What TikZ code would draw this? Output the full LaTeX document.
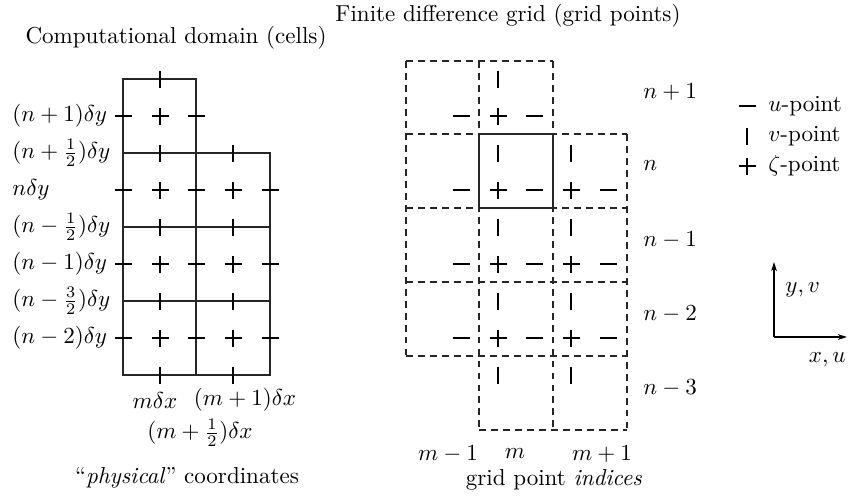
\documentclass[tikz,border=0pt]{standalone}
\usetikzlibrary{arrows.meta}
\tikzset{
  grid/.style={line width=0.45pt, black!85},
  thickbox/.style={line width=1.1pt, black!85},
  dgrid/.style={line width=0.45pt, black!85, dash pattern=on 3pt off 2.2pt},
  mk/.style={line width=0.95pt, black},
  lbl/.style={inner sep=0pt, font=\normalsize},
  upt/.pic={\draw[mk] (-8.5,0) -- (8.5,0);},
  vpt/.pic={\draw[mk] (0,-8.5) -- (0,8.5);},
  zpt/.pic={\draw[mk] (-8.5,0) -- (8.5,0) (0,-8.5) -- (0,8.5);},
}
\begin{document}
\begin{tikzpicture}[x=0.434pt, y=-0.434pt]
\useasboundingbox (0,0) rectangle (848,499);
% ---------- titles
\node[lbl] (t1) at (176,38) {Computational domain (cells)};
\node[lbl] (t2) at (508,16) {Finite difference grid (grid points)};
% ---------- left: cells
\draw[grid] (123,79) rectangle (196,375);
\draw[grid] (196,153) rectangle (270,375);
\draw[grid] (123,153) -- (270,153) (123,227) -- (270,227) (123,301) -- (270,301);
\draw[thickbox] (123,153) rectangle (196,227);
% markers (left)
\pic at (160,79) {vpt};
\foreach \y in {153,227,301,375} {\pic at (160,\y) {vpt}; \pic at (233,\y) {vpt};}
\pic at (123,116) {upt}; \pic at (196,116) {upt}; \pic at (160,116) {zpt};
\foreach \y in {190,264,338} {
  \pic at (123,\y) {upt}; \pic at (196,\y) {upt}; \pic at (270,\y) {upt};
  \pic at (160,\y) {zpt}; \pic at (233,\y) {zpt};}
% labels (left)
\node[lbl, anchor=west] (l1) at (12,116) {$(n+1)\delta y$};
\node[lbl, anchor=west] (l2) at (12,153) {$(n+\frac{1}{2})\delta y$};
\node[lbl, anchor=west] (l3) at (12,190) {$n\delta y$};
\node[lbl, anchor=west] (l4) at (12,227) {$(n-\frac{1}{2})\delta y$};
\node[lbl, anchor=west] (l5) at (12,264) {$(n-1)\delta y$};
\node[lbl, anchor=west] (l6) at (12,301) {$(n-\frac{3}{2})\delta y$};
\node[lbl, anchor=west] (l7) at (12,338) {$(n-2)\delta y$};
\node[lbl] (b1) at (155,400) {$m\delta x$};
\node[lbl] (b2) at (245,400) {$(m+1)\delta x$};
\node[lbl] (b3) at (200,433) {$(m+\frac{1}{2})\delta x$};
\node[lbl] (b4) at (187,478) {``\textit{physical}'' coordinates};
% ---------- right: grid points
\draw[dgrid] (406,61) -- (553,61);
\draw[dgrid] (406,134) -- (627,134);
\draw[dgrid] (406,208) -- (627,208);
\draw[dgrid] (406,282) -- (627,282);
\draw[dgrid] (406,356) -- (627,356);
\draw[dgrid] (479,430) -- (627,430);
\draw[dgrid] (406,61) -- (406,356);
\draw[dgrid] (479,61) -- (479,430);
\draw[dgrid] (553,61) -- (553,430);
\draw[dgrid] (627,134) -- (627,430);
\draw[grid] (479,134) rectangle (553,208);
% markers (right)
\pic at (498,79) {vpt};
\foreach \y in {153,227,301,375} {\pic at (498,\y) {vpt}; \pic at (571,\y) {vpt};}
\pic at (461,116) {upt}; \pic at (534,116) {upt}; \pic at (498,116) {zpt};
\foreach \y in {190,264,338} {
  \pic at (461,\y) {upt}; \pic at (534,\y) {upt}; \pic at (608,\y) {upt};
  \pic at (498,\y) {zpt}; \pic at (571,\y) {zpt};}
% labels (right)
\node[lbl, anchor=west] (r1) at (643,92) {$n+1$};
\node[lbl, anchor=west] (r2) at (643,166) {$n$};
\node[lbl, anchor=west] (r3) at (643,240) {$n-1$};
\node[lbl, anchor=west] (r4) at (643,314) {$n-2$};
\node[lbl, anchor=west] (r5) at (643,388) {$n-3$};
\node[lbl] (c1) at (448,454) {$m-1$};
\node[lbl] (c2) at (515,454) {$m$};
\node[lbl] (c3) at (602,454) {$m+1$};
\node[lbl] (c4) at (554,480) {grid point \textit{indices}};
% legend
\pic at (747,106) {upt};
\node[lbl, anchor=west] (k1) at (768,106) {$u$-point};
\pic at (747,136) {vpt};
\node[lbl, anchor=west] (k2) at (768,136) {$v$-point};
\pic at (747,166) {zpt};
\node[lbl, anchor=west] (k3) at (768,166) {$\zeta$-point};
% axes
\coordinate (o) at (774,337);
\coordinate (ay) at (774,262);
\coordinate (ax) at (847,337);
\draw[line width=0.45pt, -{Stealth[length=4pt, width=2.5pt]}] (o) -- (ay);
\draw[line width=0.45pt, -{Stealth[length=4pt, width=2.5pt]}] (o) -- (ax);
\node[lbl, anchor=west] (yv) at (785,290) {$y,v$};
\node[lbl, anchor=east] (xu) at (846,360) {$x,u$};
\end{tikzpicture}
\end{document}
